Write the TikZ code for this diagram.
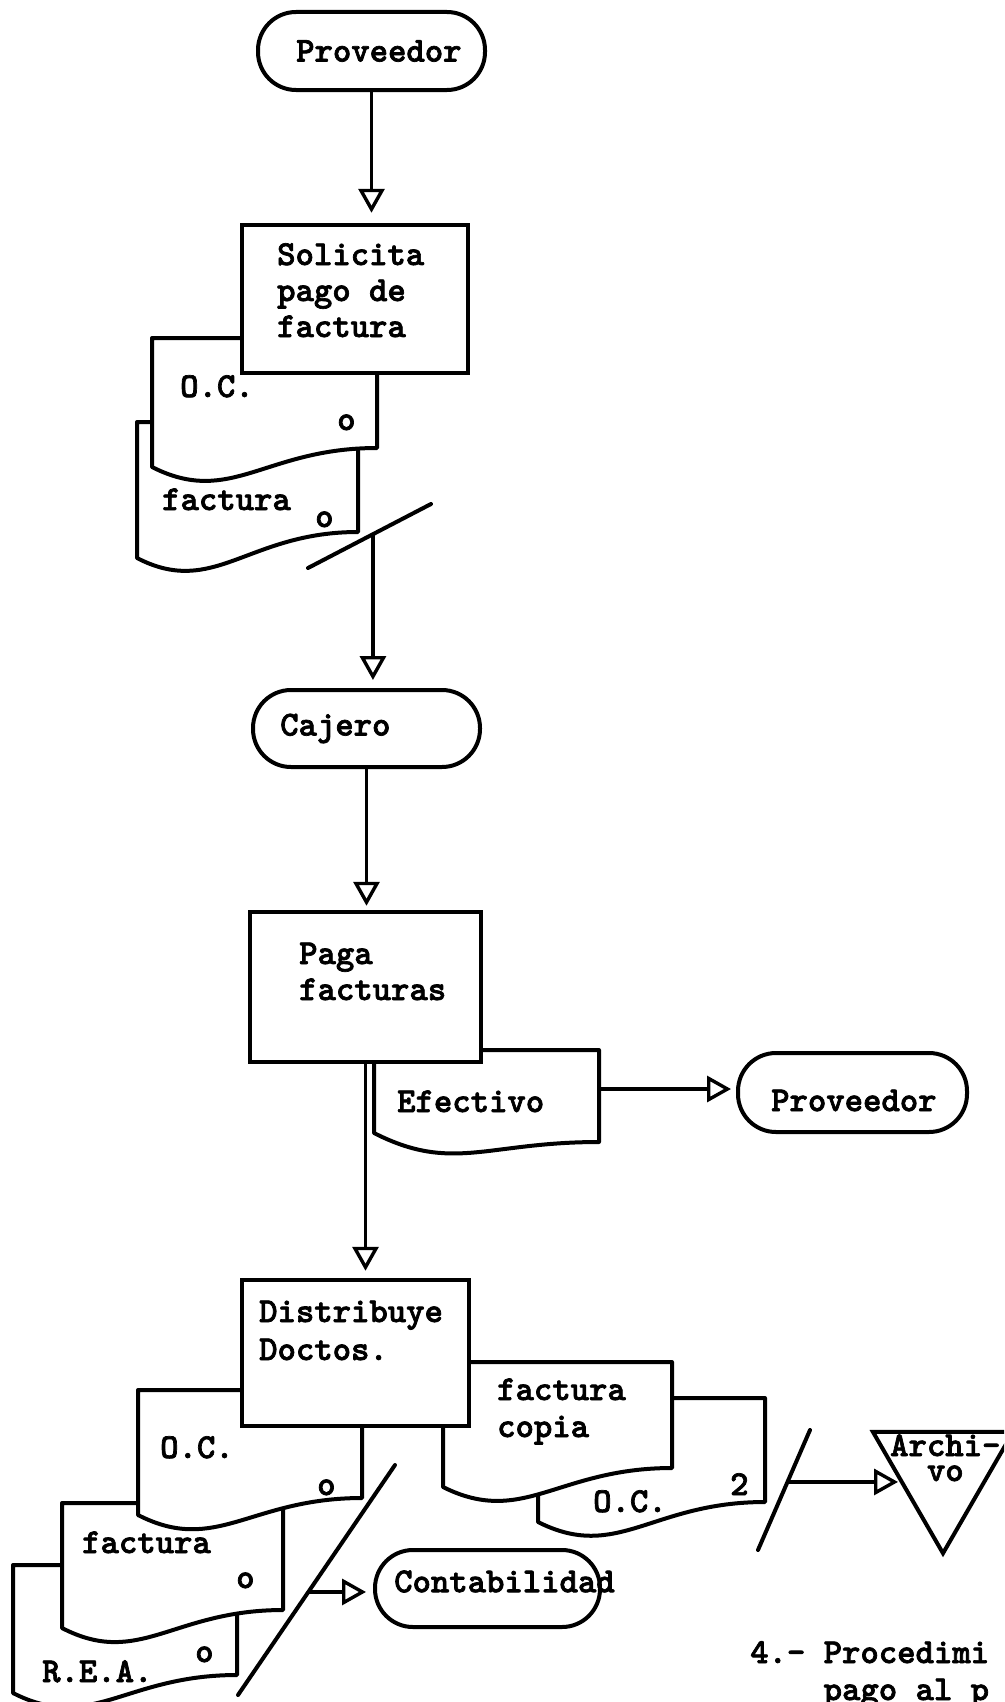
\documentclass[tikz,border=0pt]{standalone}
\usepackage{fontspec}
\IfFontExistsTF{lmmonolt10-bold.otf}{\setmonofont{lmmonolt10-bold.otf}[FakeBold=2]}{}
\usetikzlibrary{arrows.meta,shapes.geometric,calc}

\tikzset{
  every node/.style={font=\ttfamily\fontsize{35}{36}\selectfont},
  terminal/.style={draw, line width=4pt, fill=white, rounded corners=38pt, inner sep=0pt},
  procbox/.style={draw, line width=4.5pt, fill=white, inner sep=0pt},
  docline/.style={draw, line width=4pt, fill=white, line join=round},
  txt/.style={anchor=base west, align=left, inner sep=0pt},
  termtxt/.style={anchor=west, inner sep=0pt},
  flow/.style={line width=3.4pt, -{Triangle[open, length=24pt, width=26pt]}},
  cutmark/.style={line width=4pt, line cap=round}
}

% paper document: left, top, right, bottom right, bottom left
\newcommand{\paperdoc}[5]{%
  \draw[docline] (#1,#2) -- (#3,#2) -- (#3,#4)
    .. controls ({#3-0.5*(#3-#1)},#4) and ({#1+0.35*(#3-#1)},{#5+40}) .. (#1,#5) -- cycle;}

\begin{document}
\begin{tikzpicture}[x=1pt, y=-1pt]
    \useasboundingbox (0,0) rectangle (1004,1702);
    \clip (0,0) rectangle (1004,1702);

    % Documents behind the boxes
    \paperdoc{137}{422}{358}{532}{558}
    \paperdoc{152}{338}{377}{448}{467}
    \paperdoc{374}{1050}{599}{1142}{1133}
    \paperdoc{13}{1565}{237}{1675}{1693}
    \paperdoc{62}{1503}{283}{1610}{1628}
    \paperdoc{138}{1390}{362}{1498}{1515}
    \paperdoc{538}{1398}{765}{1502}{1522}
    \paperdoc{443}{1362}{672}{1468}{1487}

    % Define nodes
    \node[terminal, minimum width=227pt, minimum height=78pt, label={[termtxt, xshift=40pt]west:Proveedor}] (prov1) at (371.5,51) {};
    \node[procbox, minimum width=226pt, minimum height=148pt] (sol) at (355,299) {};
    \node[terminal, minimum width=227pt, minimum height=77pt, label={[termtxt, xshift=29pt]west:Cajero}] (caj) at (366.5,728.5) {};
    \node[procbox, minimum width=231pt, minimum height=150pt] (paga) at (365.5,987) {};
    \node[terminal, minimum width=229pt, minimum height=79pt, label={[termtxt, xshift=35pt, yshift=-8pt]west:Proveedor}] (prov2) at (852.5,1092.5) {};
    \node[procbox, minimum width=227pt, minimum height=146pt] (dist) at (355.5,1353) {};
    \node[terminal, minimum width=225pt, minimum height=77pt, label={[termtxt, xshift=21pt, yshift=7pt]west:Contabilidad}] (cont) at (487.5,1588.5) {};
    \node[draw, line width=4pt, regular polygon, regular polygon sides=3, shape border rotate=180, minimum size=161.7pt, inner sep=0pt] (arch) at (943,1472.4) {};

    % Texts
    \node[txt] (soltxt) at (277,337) {Solicita\\pago de\\factura};
    \node[txt] (oc1txt) at (180,397) {O.C.};
    \node[txt] (oc1o) at (337,430) {o};
    \node[txt] (fa1txt) at (162,510) {factura};
    \node[txt] (fa1o) at (315,527) {o};
    \node[txt] (pagatxt) at (299,1000) {Paga\\facturas};
    \node[txt] (efetxt) at (397,1112) {Efectivo};
    \node[txt] (disttxt) at (259,1360) {Distribuye\\[2pt]Doctos.};
    \node[txt] (oc3txt) at (160,1458) {O.C.};
    \node[txt] (oc3o) at (317,1495) {o};
    \node[txt] (fa3txt) at (82,1553) {factura};
    \node[txt] (fa3o) at (236,1588) {o};
    \node[txt] (reatxt) at (42,1682) {R.E.A.};
    \node[txt] (reao) at (195,1662) {o};
    \node[txt] (fctxt) at (497,1437) {factura\\[1pt]copia};
    \node[txt] (oc2txt) at (593,1512) {O.C.};
    \node[txt] (oc2n) at (730,1495) {2};
    \node[txt] (archtxt) at (890,1481) {Archi-\\[-11pt]\phantom{Ar}vo};
    \node[txt] (caption) at (750,1700) {4.- Procedimi\\[1pt]\phantom{4.- }pago al p};

    % Break marks and free ends
    \coordinate (sl1a) at (308,568);
    \coordinate (sl1b) at (431,504);
    \coordinate (sl2a) at (758,1550);
    \coordinate (sl2b) at (810,1430);
    \coordinate (sl3a) at (238,1695);
    \coordinate (sl3b) at (395,1465);
    \coordinate (s1) at ($(sl1a)!0.528!(sl1b)$);
    \coordinate (s2) at ($(sl2a)!0.567!(sl2b)$);
    \coordinate (s3) at ($(sl3a)!0.448!(sl3b)$);
    \coordinate (efe) at (599,1089);

    % Draw edges
    \draw[cutmark] (sl1a) -- (sl1b);
    \draw[cutmark] (sl2a) -- (sl2b);
    \draw[cutmark] (sl3a) -- (sl3b);
    \draw[flow, shorten >=10pt] (prov1.south) -- (prov1.south |- sol.north);
    \draw[flow, shorten >=8pt] (s1) -- (s1 |- caj.north);
    \draw[flow, shorten >=4pt] (caj.south) -- (caj.south |- paga.north);
    \draw[flow, shorten >=7pt] (paga.south) -- (paga.south |- dist.north);
    \draw[flow, shorten >=5pt] (efe) -- (efe -| prov2.west);
    \draw[flow, shorten >=7pt] (s3) -- (s3 -| cont.west);
    \draw[flow, shorten >=-4pt] (s2) -- (s2 -| arch.west);
\end{tikzpicture}
\end{document}
